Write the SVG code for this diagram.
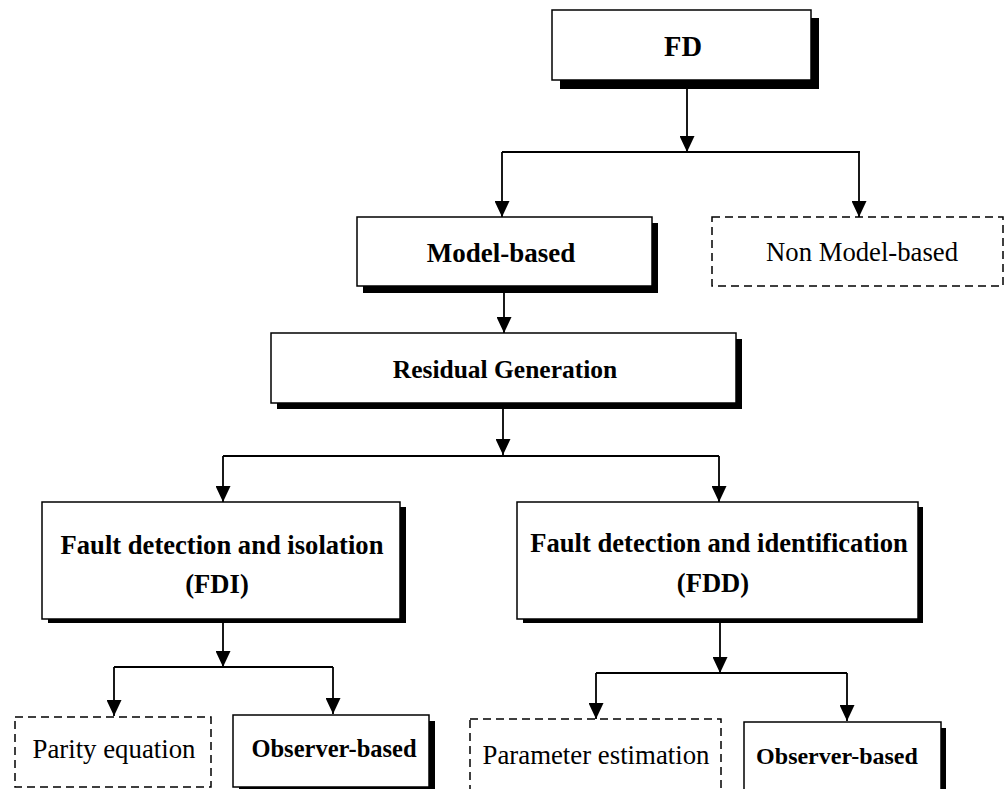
<svg xmlns="http://www.w3.org/2000/svg" width="1004" height="789" viewBox="0 0 1004 789">
  <style>
    .box { fill: #ffffff; stroke: #000000; stroke-width: 1.5; }
    .dash { fill: #ffffff; stroke: #000000; stroke-width: 1.5; stroke-dasharray: 8 5; }
    .shadow { fill: #000000; }
    .bold { font-family: "Liberation Serif", "Times New Roman", serif; font-size: 26.6px; font-weight: bold; fill: #000000; text-anchor: middle; }
    .plain { font-family: "Liberation Serif", "Times New Roman", serif; font-size: 26.7px; fill: #000000; text-anchor: middle; }
    .wire { fill: none; stroke: #000000; stroke-width: 1.8; }
  </style>
  <defs>
    <marker id="arrow" viewBox="0 0 16 15" refX="16" refY="7.5" markerWidth="16" markerHeight="15" markerUnits="userSpaceOnUse" orient="auto">
      <path d="M0,0 L16,7.5 L0,15 Z" fill="#000000"/>
    </marker>
  </defs>
  <rect width="1004" height="789" fill="#ffffff"/>

  <g id="connectors">
    <!-- FD to first split -->
    <line class="wire" x1="687" y1="89" x2="687" y2="152" marker-end="url(#arrow)"/>
    <polyline class="wire" points="502,152 860,152"/>
    <line class="wire" x1="502" y1="152" x2="502" y2="217" marker-end="url(#arrow)"/>
    <line class="wire" x1="859" y1="152" x2="859" y2="217" marker-end="url(#arrow)"/>
    <!-- Model-based to Residual Generation -->
    <line class="wire" x1="504" y1="293" x2="504" y2="333" marker-end="url(#arrow)"/>
    <!-- Residual Generation to second split -->
    <line class="wire" x1="503" y1="409" x2="503" y2="455" marker-end="url(#arrow)"/>
    <polyline class="wire" points="223,456 719,456"/>
    <line class="wire" x1="223" y1="456" x2="223" y2="502" marker-end="url(#arrow)"/>
    <line class="wire" x1="719" y1="456" x2="719" y2="502" marker-end="url(#arrow)"/>
    <!-- FDI branch -->
    <line class="wire" x1="223" y1="623" x2="223" y2="667" marker-end="url(#arrow)"/>
    <polyline class="wire" points="114,667 333,667"/>
    <line class="wire" x1="114" y1="667" x2="114" y2="716" marker-end="url(#arrow)"/>
    <line class="wire" x1="333" y1="667" x2="333" y2="714" marker-end="url(#arrow)"/>
    <!-- FDD branch -->
    <line class="wire" x1="720" y1="623" x2="720" y2="673" marker-end="url(#arrow)"/>
    <polyline class="wire" points="596,673 847,673"/>
    <line class="wire" x1="596" y1="673" x2="596" y2="719" marker-end="url(#arrow)"/>
    <line class="wire" x1="847" y1="673" x2="847" y2="721" marker-end="url(#arrow)"/>
  </g>

  <g id="fd">
    <rect class="shadow" x="560" y="18" width="259" height="71"/>
    <rect class="box" x="552" y="10" width="259" height="70"/>
    <text class="bold" x="683" y="56" style="font-size:28.5px">FD</text>
  </g>

  <g id="model-based">
    <rect class="shadow" x="363" y="223" width="295" height="70"/>
    <rect class="box" x="357" y="217" width="295" height="69"/>
    <text class="bold" x="501" y="262" style="font-size:27px">Model-based</text>
  </g>

  <g id="non-model-based">
    <rect class="dash" x="712" y="217" width="291" height="69"/>
    <text class="plain" x="862" y="261">Non Model-based</text>
  </g>

  <g id="residual-generation">
    <rect class="shadow" x="277" y="339" width="465" height="70"/>
    <rect class="box" x="271" y="333" width="465" height="70"/>
    <text class="bold" x="505" y="378" style="font-size:25.5px">Residual Generation</text>
  </g>

  <g id="fdi">
    <rect class="shadow" x="48" y="507" width="358" height="116"/>
    <rect class="box" x="42" y="502" width="358" height="117"/>
    <text class="bold" x="222" y="554">Fault detection and isolation</text>
    <text class="bold" x="217" y="593">(FDI)</text>
  </g>

  <g id="fdd">
    <rect class="shadow" x="523" y="507" width="400" height="116"/>
    <rect class="box" x="517" y="502" width="401" height="117"/>
    <text class="bold" x="719" y="552">Fault detection and identification</text>
    <text class="bold" x="713" y="592">(FDD)</text>
  </g>

  <g id="parity-equation">
    <rect class="dash" x="15" y="717" width="196" height="70"/>
    <text class="plain" x="114" y="758" style="font-size:26.8px">Parity equation</text>
  </g>

  <g id="observer-based-fdi">
    <rect class="shadow" x="239" y="721" width="196" height="72"/>
    <rect class="box" x="233" y="715" width="196" height="72"/>
    <text class="bold" x="334" y="757" style="font-size:24.5px">Observer-based</text>
  </g>

  <g id="parameter-estimation">
    <rect class="dash" x="470" y="719" width="251" height="72"/>
    <text class="plain" x="596" y="764" style="font-size:26.8px">Parameter estimation</text>
  </g>

  <g id="observer-based-fdd">
    <rect class="shadow" x="750" y="728" width="196" height="72"/>
    <rect class="box" x="744" y="722" width="197" height="72"/>
    <text class="bold" x="837" y="764" style="font-size:24px">Observer-based</text>
  </g>
</svg>
